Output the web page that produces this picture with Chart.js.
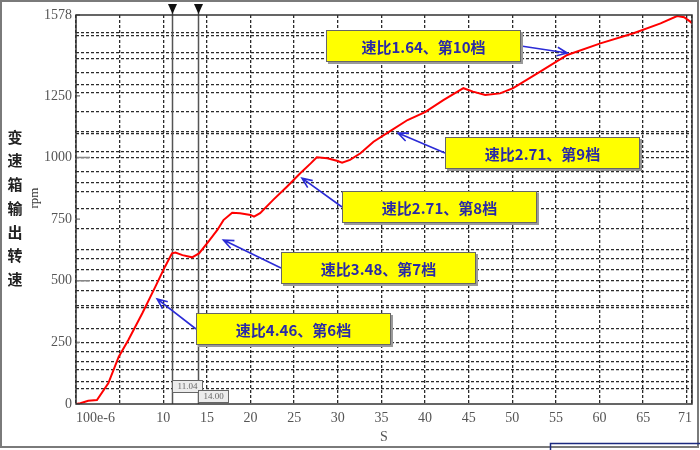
<!DOCTYPE html>
<html>
<head>
<meta charset="utf-8">
<script src="https://cdn.jsdelivr.net/npm/chart.js@4.4.0/dist/chart.umd.min.js"></script>
<style>
  html, body { margin: 0; padding: 0; background: #fff; }
  canvas { display: block; }
</style>
</head>
<body>
<canvas id="speed-chart" width="700" height="450"></canvas>
<script>
// gearbox output speed trace
const timeS = [0, 0.5, 1.4, 2.4, 3.7, 4.9, 6.0, 7.6, 9.1, 10.2,
    11.0, 11.4, 12.2, 13.3, 14.1, 15.2, 16.2, 16.9, 17.9, 18.8,
    20.0, 20.4, 21.1, 22.6, 24.2, 25.7, 26.9, 27.6, 28.8, 29.9,
    30.5, 31.4, 32.6, 34.1, 36.0, 38.0, 40.0, 42.1, 44.4, 45.5,
    46.9, 48.6, 50.1, 53.2, 56.3, 60.1, 63.9, 67.0, 68.9, 69.7,
    70.4, 70.6];
const speedRpm = [0, 3, 13, 16, 84, 192, 260, 368, 476, 557,
    611, 614, 604, 595, 611, 660, 706, 746, 776, 774,
    767, 760, 774, 828, 882, 936, 976, 1001, 997, 987,
    979, 990, 1017, 1064, 1107, 1152, 1184, 1233, 1281, 1267,
    1254, 1260, 1281, 1348, 1416, 1463, 1504, 1544, 1574, 1569,
    1551, 1545];

const xTickVals = [0, 5, 10, 15, 20, 25, 30, 35, 40, 45, 50, 55, 60, 65, 70, 70.6];
const xTickLabels = ['100e-6', '', '10', '15', '20', '25', '30', '35', '40', '45', '50', '55', '60', '65', '', '71'];
const yTickVals = [0, 250, 500, 750, 1000, 1250, 1578];
const yTickLabels = ['0', '250', '500', '750', '1000', '1250', '1578'];
// the dotted horizontal grid is irregular in the original
const yGridVals = [61, 89, 140, 171, 212, 250, 307, 390, 400, 460, 500, 544, 589, 625, 711,
    791, 860, 897, 941, 1000, 1025, 1097, 1106, 1186, 1265, 1294, 1346, 1400, 1427, 1494, 1508];

const cursorTimes = [11.04, 14.00];
const cursorLabels = ['11.04', '14.00'];
const noteTexts = ['速比4.46、第6档', '速比3.48、第7档', '速比2.71、第8档', '速比2.71、第9档', '速比1.64、第10档'];

document.addEventListener('DOMContentLoaded', function () {
    const serif = '"Liberation Serif", "DejaVu Serif", serif';
    const cjk = '"Noto Sans CJK SC", sans-serif';

    // box corner (left/top, data units) and arrow tip for each note
    const notePlaces = [
        { t: 13.8, v: 369, tipT: 9.3, tipV: 426, side: 'left' },
        { t: 23.5, v: 617, tipT: 16.9, tipV: 665, side: 'left' },
        { t: 30.5, v: 864, tipT: 25.9, tipV: 916, side: 'left' },
        { t: 42.3, v: 1083, tipT: 36.9, tipV: 1099, side: 'left' },
        { t: 28.6, v: 1517, tipT: 56.3, tipV: 1424, side: 'right' }
    ];

    function arrow(ctx, x1, y1, x2, y2) {
        const ang = Math.atan2(y2 - y1, x2 - x1);
        ctx.beginPath();
        ctx.moveTo(x1, y1);
        ctx.lineTo(x2, y2);
        ctx.moveTo(x2 - 11 * Math.cos(ang - 0.4), y2 - 11 * Math.sin(ang - 0.4));
        ctx.lineTo(x2, y2);
        ctx.lineTo(x2 - 11 * Math.cos(ang + 0.4), y2 - 11 * Math.sin(ang + 0.4));
        ctx.stroke();
    }

    const decor = {
        id: 'decor',
        beforeDatasetsDraw(chart) {
            const { ctx, chartArea: a, scales: { x, y } } = chart;
            ctx.save();
            // short solid ticks on the left edge
            ctx.strokeStyle = '#888';
            ctx.lineWidth = 1.5;
            yTickVals.forEach(v => {
                const py = y.getPixelForValue(v);
                ctx.beginPath();
                ctx.moveTo(a.left, py);
                ctx.lineTo(a.left + (v % 500 === 0 && v > 0 ? 14 : 4), py);
                ctx.stroke();
            });
            // cursors
            cursorTimes.forEach(t => {
                const px = Math.round(x.getPixelForValue(t)) + 0.5;
                ctx.strokeStyle = '#555';
                ctx.lineWidth = 1.5;
                ctx.beginPath();
                ctx.moveTo(px, 8);
                ctx.lineTo(px, a.bottom);
                ctx.stroke();
                ctx.fillStyle = '#111';
                ctx.beginPath();
                ctx.moveTo(px - 4.5, 4);
                ctx.lineTo(px + 4.5, 4);
                ctx.lineTo(px, 14);
                ctx.closePath();
                ctx.fill();
            });
            ctx.restore();
        },
        afterDatasetsDraw(chart) {
            const { ctx, chartArea: a, scales: { x, y } } = chart;
            ctx.save();

            // cursor value tags
            const drops = [24, 14];
            cursorTimes.forEach((t, i) => {
                const px = Math.round(x.getPixelForValue(t));
                const top = a.bottom - drops[i];
                ctx.fillStyle = '#ececec';
                ctx.fillRect(px, top, 31, 13);
                ctx.strokeStyle = '#666';
                ctx.lineWidth = 1;
                ctx.strokeRect(px + 0.5, top + 0.5, 30, 12);
                ctx.fillStyle = '#666';
                ctx.font = '9px ' + serif;
                ctx.textAlign = 'center';
                ctx.textBaseline = 'middle';
                ctx.fillText(cursorLabels[i], px + 15.5, top + 7);
            });

            // gear notes
            const bw = 195, bh = 32;
            notePlaces.forEach((n, i) => {
                const bx = Math.round(x.getPixelForValue(n.t));
                const by = Math.round(y.getPixelForValue(n.v));
                const sx = n.side === 'left' ? bx : bx + bw;
                ctx.strokeStyle = '#2b2bd6';
                ctx.lineWidth = 1.6;
                arrow(ctx, sx, by + bh / 2, x.getPixelForValue(n.tipT), y.getPixelForValue(n.tipV));

                ctx.fillStyle = '#9a9a9a';
                ctx.fillRect(bx + 2, by + 2, bw, bh);
                ctx.fillStyle = '#ffff00';
                ctx.fillRect(bx, by, bw, bh);
                ctx.strokeStyle = '#666';
                ctx.lineWidth = 1;
                ctx.strokeRect(bx + 0.5, by + 0.5, bw - 1, bh - 1);
                ctx.fillStyle = '#2a2aa6';
                ctx.font = '600 15px ' + cjk;
                ctx.textAlign = 'center';
                ctx.textBaseline = 'middle';
                ctx.fillText(noteTexts[i], bx + bw / 2, by + bh / 2 + 1);
            });

            // plot frame
            ctx.strokeStyle = '#333';
            ctx.lineWidth = 1.5;
            ctx.strokeRect(a.left, a.top, a.right - a.left, a.bottom - a.top);
            ctx.restore();
        },
        afterDraw(chart) {
            const ctx = chart.ctx;
            ctx.save();
            // y axis title, stacked characters
            ctx.fillStyle = '#222';
            ctx.font = 'bold 15px ' + cjk;
            ctx.textAlign = 'center';
            ctx.textBaseline = 'middle';
            '变速箱输出转速'.split('').forEach((ch, i) => ctx.fillText(ch, 15, 137 + i * 23.7));
            ctx.translate(35, 198);
            ctx.rotate(-Math.PI / 2);
            ctx.fillStyle = '#333';
            ctx.font = '13px ' + serif;
            ctx.fillText('rpm', 0, 0);
            ctx.restore();

            // outer window frame
            ctx.save();
            ctx.strokeStyle = '#7a7a7a';
            ctx.lineWidth = 2;
            ctx.strokeRect(1, 1, 697, 446);
            ctx.strokeStyle = '#1c2a80';
            ctx.lineWidth = 1.5;
            ctx.strokeRect(550.5, 443.5, 160, 20);
            ctx.restore();
        }
    };

    new Chart(document.getElementById('speed-chart'), {
        type: 'line',
        data: {
            datasets: [{
                data: timeS.map((t, i) => ({ x: t, y: speedRpm[i] })),
                borderColor: '#ff0000',
                borderWidth: 2,
                pointRadius: 0,
                tension: 0
            }]
        },
        options: {
            responsive: false,
            animation: false,
            layout: { padding: { top: 15, right: 8, left: 0, bottom: 0 } },
            plugins: { legend: { display: false }, tooltip: { enabled: false } },
            scales: {
                x: {
                    type: 'linear',
                    min: 0,
                    max: 70.6,
                    afterBuildTicks: s => { s.ticks = xTickVals.map(v => ({ value: v })); },
                    afterFit: s => { s.height = 46; },
                    ticks: {
                        autoSkip: false,
                        maxRotation: 0,
                        align: 'inner',
                        padding: 6,
                        color: '#555',
                        font: { family: serif, size: 14 },
                        callback: (v, i) => xTickLabels[i]
                    },
                    grid: { color: '#2a2a2a', lineWidth: 1.3, drawTicks: false },
                    border: { display: false, dash: [3, 2] },
                    title: {
                        display: true,
                        text: 'S',
                        color: '#555',
                        font: { family: serif, size: 14 },
                        padding: { top: 0, bottom: 4 }
                    }
                },
                y: {
                    min: 0,
                    max: 1578,
                    afterBuildTicks: s => {
                        const vals = Array.from(new Set(yTickVals.concat(yGridVals))).sort((a, b) => a - b);
                        s.ticks = vals.map(v => ({ value: v }));
                    },
                    afterFit: s => { s.width = 76; },
                    ticks: {
                        autoSkip: false,
                        padding: 4,
                        color: '#555',
                        font: { family: serif, size: 14 },
                        callback: v => {
                            const k = yTickVals.indexOf(v);
                            return k >= 0 ? yTickLabels[k] : '';
                        }
                    },
                    grid: {
                        color: c => (c.tick && yGridVals.includes(c.tick.value)) ? '#2a2a2a' : 'rgba(0,0,0,0)',
                        lineWidth: 1.3,
                        drawTicks: false
                    },
                    border: { display: false, dash: [3, 2] }
                }
            }
        },
        plugins: [decor]
    });
});
</script>
</body>
</html>
